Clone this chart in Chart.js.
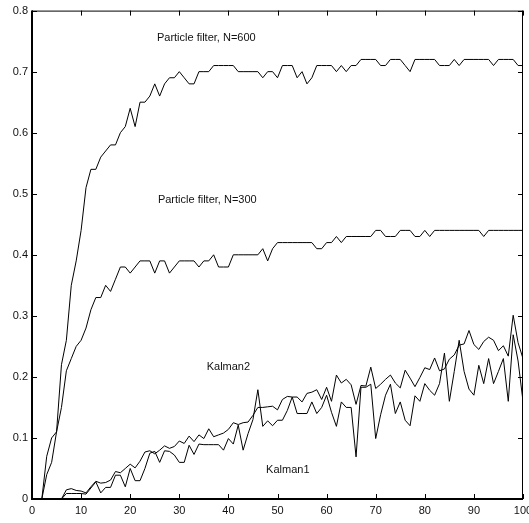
<!DOCTYPE html>
<html><head><meta charset="utf-8">
<script src="https://cdn.jsdelivr.net/npm/chart.js@4.4.1/dist/chart.umd.min.js"></script>
<style>
html,body{margin:0;padding:0;overflow:hidden;background:#fff;width:529px;height:523px}
#wrap{position:absolute;left:0;top:0;width:545px;height:523px}
</style>
</head><body>
<div id="wrap"><canvas id="c" width="545" height="523"></canvas></div>
<script>
// x positions (time steps)
const steps = [0,1,2,3,4,5,6,7,8,9,10,11,12,13,14,15,16,17,18,19,20,21,22,23,24,25,26,27,28,29,30,
  31,32,33,34,35,36,37,38,39,40,41,42,43,44,45,46,47,48,49,50,51,52,53,54,55,56,57,58,59,60,
  61,62,63,64,65,66,67,68,69,70,71,72,73,74,75,76,77,78,79,80,81,82,83,84,85,86,87,88,89,90,
  91,92,93,94,95,96,97,98,99,100];

const pf600 = [0,0,0,0.07,0.10,0.11,0.22,0.26,0.35,0.39,0.44,
  0.51,0.54,0.54,0.56,0.57,0.58,0.58,0.60,0.61,0.64,
  0.61,0.65,0.65,0.66,0.68,0.66,0.68,0.69,0.69,0.70,
  0.69,0.68,0.68,0.70,0.70,0.70,0.71,0.71,0.71,0.71,
  0.71,0.70,0.70,0.70,0.70,0.70,0.69,0.70,0.70,0.69,
  0.71,0.71,0.71,0.69,0.70,0.68,0.69,0.71,0.71,0.71,
  0.71,0.70,0.71,0.70,0.71,0.71,0.72,0.72,0.72,0.72,
  0.71,0.71,0.72,0.72,0.72,0.71,0.70,0.72,0.72,0.72,
  0.72,0.72,0.71,0.71,0.71,0.72,0.71,0.72,0.72,0.72,
  0.72,0.72,0.72,0.71,0.72,0.72,0.72,0.72,0.71,0.71];

const pf300 = [0,0,0,0.04,0.06,0.11,0.15,0.21,0.23,0.25,0.26,
  0.28,0.31,0.33,0.33,0.35,0.34,0.36,0.38,0.38,0.37,
  0.38,0.39,0.39,0.39,0.37,0.39,0.39,0.37,0.38,0.39,
  0.39,0.39,0.39,0.38,0.39,0.39,0.40,0.38,0.38,0.38,
  0.40,0.40,0.40,0.40,0.40,0.40,0.41,0.39,0.41,0.42,
  0.42,0.42,0.42,0.42,0.42,0.42,0.42,0.41,0.41,0.42,
  0.42,0.43,0.42,0.43,0.43,0.43,0.43,0.43,0.43,0.44,
  0.44,0.43,0.43,0.43,0.44,0.44,0.44,0.43,0.43,0.44,
  0.43,0.44,0.44,0.44,0.44,0.44,0.44,0.44,0.44,0.44,
  0.44,0.43,0.44,0.44,0.44,0.44,0.44,0.44,0.44,0.44];

const kalman2 = [0,0,0,0,0,0,0,0.015,0.017,0.014,0.013,
  0.010,0.020,0.029,0.026,0.027,0.031,0.045,0.043,0.050,0.057,
  0.051,0.062,0.077,0.079,0.074,0.080,0.087,0.083,0.086,0.095,
  0.091,0.103,0.094,0.105,0.099,0.115,0.102,0.105,0.108,0.114,
  0.125,0.122,0.125,0.126,0.137,0.150,0.150,0.151,0.152,0.146,
  0.163,0.168,0.167,0.167,0.159,0.173,0.175,0.179,0.163,0.183,
  0.160,0.203,0.190,0.196,0.187,0.155,0.186,0.185,0.216,0.181,
  0.188,0.196,0.203,0.190,0.182,0.211,0.198,0.184,0.199,0.215,
  0.212,0.231,0.210,0.213,0.229,0.236,0.252,0.254,0.276,0.253,
  0.245,0.258,0.265,0.260,0.243,0.251,0.234,0.301,0.256,0.230];

const kalman1 = [0,0,0,0,0,0,0,0.009,0.009,0.009,0.009,
  0.008,0.018,0.028,0.010,0.019,0.019,0.039,0.039,0.020,0.050,
  0.030,0.030,0.050,0.075,0.078,0.060,0.079,0.078,0.072,0.060,
  0.060,0.088,0.073,0.090,0.089,0.089,0.089,0.089,0.080,0.099,
  0.090,0.121,0.080,0.107,0.130,0.179,0.119,0.128,0.120,0.129,
  0.129,0.145,0.167,0.140,0.140,0.140,0.159,0.140,0.150,0.170,
  0.142,0.119,0.159,0.150,0.150,0.069,0.183,0.183,0.188,0.099,
  0.138,0.170,0.188,0.140,0.159,0.129,0.120,0.169,0.160,0.189,
  0.178,0.170,0.189,0.239,0.160,0.209,0.260,0.209,0.180,0.170,
  0.219,0.189,0.230,0.189,0.209,0.230,0.160,0.269,0.226,0.160];

const xTickValues = [0,10,20,30,40,50,60,70,80,90,100];
const yTickValues = [0,0.1,0.2,0.3,0.4,0.5,0.6,0.7,0.8];

const noteTexts = ['Particle filter, N=600','Particle filter, N=300','Kalman2','Kalman1'];
const noteX = [35.5, 35.7, 40.0, 52.1];
const noteY = [0.755, 0.490, 0.216, 0.047];

const FONT = '"Liberation Sans", Arial, Helvetica, sans-serif';

function series(vals){ return steps.map((s,i)=>({x:s, y:vals[i]})); }
function ds(vals){ return {data: series(vals), borderColor:'#000', borderWidth:1, pointRadius:0, tension:0, fill:false}; }

const framePlugin = {
  id:'frame',
  afterDraw(chart){
    const {ctx, chartArea:a, scales:{x, y}} = chart;
    ctx.save();
    ctx.strokeStyle = '#000';
    // ticks (inward)
    ctx.lineWidth = 1;
    const tl = 5;
    xTickValues.forEach(v=>{
      const px = Math.round(x.getPixelForValue(v)) + 0.5;
      ctx.beginPath();
      ctx.moveTo(px, a.bottom); ctx.lineTo(px, a.bottom - tl);
      ctx.moveTo(px, a.top); ctx.lineTo(px, a.top + tl);
      ctx.stroke();
    });
    yTickValues.forEach(v=>{
      const py = Math.round(y.getPixelForValue(v)) + 0.5;
      ctx.beginPath();
      ctx.moveTo(a.left, py); ctx.lineTo(a.left + tl, py);
      ctx.moveTo(a.right, py); ctx.lineTo(a.right - tl, py);
      ctx.stroke();
    });
    // box
    ctx.lineWidth = 1;
    ctx.beginPath();
    ctx.moveTo(a.left, a.top + 0.5); ctx.lineTo(a.right, a.top + 0.5);
    ctx.moveTo(a.right - 0.5, a.top); ctx.lineTo(a.right - 0.5, a.bottom);
    ctx.stroke();
    ctx.lineWidth = 2;
    ctx.beginPath();
    ctx.moveTo(a.left, a.top); ctx.lineTo(a.left, a.bottom + 1);
    ctx.moveTo(a.left - 1, a.bottom); ctx.lineTo(a.right, a.bottom);
    ctx.stroke();
    // annotations
    ctx.fillStyle = '#111';
    ctx.font = '11px ' + FONT;
    ctx.textAlign = 'center';
    ctx.textBaseline = 'middle';
    noteTexts.forEach((t,i)=>{
      ctx.fillText(t, x.getPixelForValue(noteX[i]), y.getPixelForValue(noteY[i]));
    });
    ctx.restore();
  }
};

new Chart(document.getElementById('c'), {
  type:'line',
  data:{ datasets:[ds(pf600), ds(pf300), ds(kalman2), ds(kalman1)] },
  options:{
    responsive:false,
    animation:false,
    layout:{ padding:{ top:10, right:22, left:0, bottom:0 } },
    plugins:{ legend:{display:false}, tooltip:{enabled:false} },
    scales:{
      x:{
        type:'linear', min:0, max:100,
        afterBuildTicks(s){ s.ticks = xTickValues.map(v=>({value:v})); },
        afterFit(s){ s.height = 24; },
        grid:{ drawOnChartArea:false, drawTicks:false },
        border:{ display:false },
        ticks:{ color:'#111', font:{family:FONT, size:11}, padding:5, maxRotation:0, autoSkip:false,
          callback:(v)=>String(v) }
      },
      y:{
        type:'linear', min:0, max:0.8,
        afterBuildTicks(s){ s.ticks = yTickValues.map(v=>({value:v})); },
        afterFit(s){ s.width = 32; },
        grid:{ drawOnChartArea:false, drawTicks:false },
        border:{ display:false },
        ticks:{ color:'#111', font:{family:FONT, size:11}, padding:4, autoSkip:false,
          callback:(v)=>String(Math.round(v*10)/10) }
      }
    }
  },
  plugins:[framePlugin]
});
</script>
</body></html>
